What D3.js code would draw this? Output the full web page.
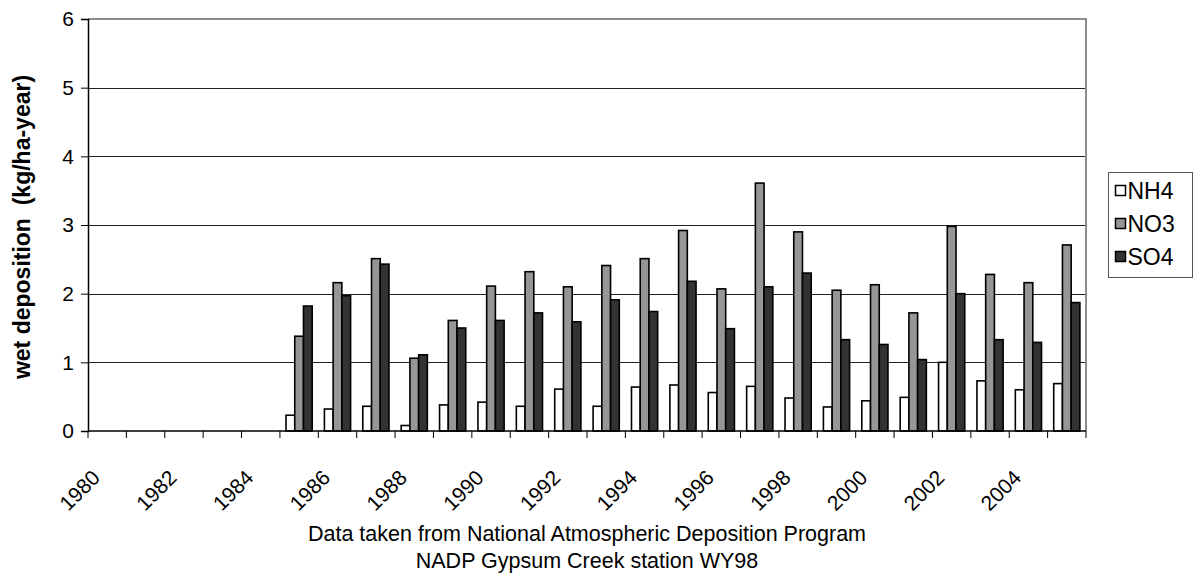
<!DOCTYPE html>
<html>
<head>
<meta charset="utf-8">
<script src="https://cdn.jsdelivr.net/npm/d3@7"></script>
<style>
  html, body { margin: 0; padding: 0; background: #fff; }
  svg { display: block; font-family: "Liberation Sans", Arial, sans-serif; }
  text { white-space: pre; }
</style>
</head>
<body>
<svg id="chart" width="1194" height="575"></svg>
<script>
const years = ["1980","1981","1982","1983","1984","1985","1986","1987","1988","1989","1990","1991","1992","1993","1994","1995","1996","1997","1998","1999","2000","2001","2002","2003","2004","2005"];
const tickLabels = ["1980","1982","1984","1986","1988","1990","1992","1994","1996","1998","2000","2002","2004"];
const seriesNames = ["NH4","NO3","SO4"];
const nh4 = [null,null,null,null,null,0.23,0.32,0.36,0.08,0.38,0.42,0.36,0.61,0.36,0.64,0.67,0.56,0.65,0.48,0.35,0.44,0.49,1.00,0.73,0.60,0.69];
const no3 = [null,null,null,null,null,1.38,2.16,2.51,1.06,1.61,2.11,2.32,2.10,2.41,2.51,2.92,2.07,3.61,2.90,2.05,2.13,1.72,2.98,2.28,2.16,2.71];
const so4 = [null,null,null,null,null,1.82,1.97,2.43,1.11,1.50,1.61,1.72,1.59,1.91,1.74,2.18,1.49,2.10,2.30,1.33,1.26,1.04,2.00,1.33,1.29,1.87];
const yTicks = [0,1,2,3,4,5,6];
const colors = ["#ffffff","#969696","#333333"];

const svg = d3.select("#chart");
const pL = 88, pR = 1086, pT = 19, pB = 431;
const FS = 21;

const x = d3.scaleBand().domain(years).range([pL, pR]).paddingInner(0).paddingOuter(0);
const barW = x.bandwidth() / 4.4;
const inner = d3.scaleBand().domain(seriesNames).range([0, barW * 3]);
const y = d3.scaleLinear().domain([0, 6]).range([pB, pT]);

// gridlines
svg.append("g").selectAll("line").data(yTicks.filter(d => d > 0 && d < 6)).join("line")
  .attr("x1", pL).attr("x2", pR)
  .attr("y1", d => Math.round(y(d)) + 0.5).attr("y2", d => Math.round(y(d)) + 0.5)
  .attr("stroke", "#222").attr("stroke-width", 1);

// plot border (top and right)
svg.append("path")
  .attr("d", `M${pL},${pT}H${pR}V${pB}`)
  .attr("fill", "none").attr("stroke", "#8c8c8c").attr("stroke-width", 2);

// bars
const data = [nh4, no3, so4];
const groups = svg.append("g");
seriesNames.forEach((s, si) => {
  groups.append("g").selectAll("rect")
    .data(years.map((yr, i) => ({yr, v: data[si][i]})).filter(d => d.v != null))
    .join("rect")
    .attr("x", d => x(d.yr) + (x.bandwidth() - barW * 3) / 2 + inner(s))
    .attr("y", d => y(d.v))
    .attr("width", barW)
    .attr("height", d => y(0) - y(d.v))
    .attr("fill", colors[si])
    .attr("stroke", "#000").attr("stroke-width", 1.6);
});

// y axis
const yAxis = d3.axisLeft(y).tickValues(yTicks).tickSize(7).tickPadding(7).tickFormat(d3.format("d"));
const yg = svg.append("g").attr("transform", `translate(${pL},0)`).call(yAxis);
yg.select(".domain").attr("stroke", "#000").attr("stroke-width", 1.5);
yg.selectAll(".tick line").attr("stroke", "#000");
yg.selectAll(".tick text").attr("font-size", FS).attr("font-family", "Liberation Sans, Arial, sans-serif").attr("fill", "#000");

// x axis: ticks at category boundaries
const bounds = years.map(yr => x(yr)).concat([pR]);
const xg = svg.append("g");
xg.append("line").attr("x1", pL).attr("x2", pR).attr("y1", pB).attr("y2", pB)
  .attr("stroke", "#000").attr("stroke-width", 1.5);
xg.selectAll("line.tk").data(bounds).join("line").attr("class", "tk")
  .attr("x1", d => d).attr("x2", d => d).attr("y1", pB).attr("y2", pB + 7)
  .attr("stroke", "#000").attr("stroke-width", 1);
xg.selectAll("text").data(tickLabels).join("text")
  .attr("transform", d => `translate(${x(d) + x.bandwidth() / 2 - 6},${pB + 48}) rotate(-45)`)
  .attr("text-anchor", "end")
  .attr("font-size", FS).attr("fill", "#000")
  .text(d => d);

// y title
svg.append("text")
  .attr("transform", `translate(30,227) rotate(-90)`)
  .attr("text-anchor", "middle")
  .attr("font-size", 23).attr("font-weight", "bold").attr("fill", "#000")
  .text("wet deposition  (kg/ha-year)");

// footnote
const notes = ["Data taken from National Atmospheric Deposition Program", "NADP Gypsum Creek station WY98"];
svg.append("g").selectAll("text").data(notes).join("text")
  .attr("x", (pL + pR) / 2).attr("y", (d, i) => 541 + i * 27)
  .attr("text-anchor", "middle").attr("font-size", 21.5).attr("fill", "#000")
  .text(d => d);

// legend
const lg = svg.append("g");
lg.append("rect").attr("x", 1108.5).attr("y", 172.5).attr("width", 84).attr("height", 105)
  .attr("fill", "#fff").attr("stroke", "#555").attr("stroke-width", 1);
seriesNames.forEach((s, i) => {
  const cy = 191 + i * 33;
  lg.append("rect").attr("x", 1115.5).attr("y", cy - 5.5).attr("width", 10).attr("height", 10)
    .attr("fill", colors[i]).attr("stroke", "#000").attr("stroke-width", 1.5);
  lg.append("text").attr("x", 1127.5).attr("y", cy + 8).attr("font-size", 23).attr("fill", "#000").text(s);
});
</script>
</body>
</html>
